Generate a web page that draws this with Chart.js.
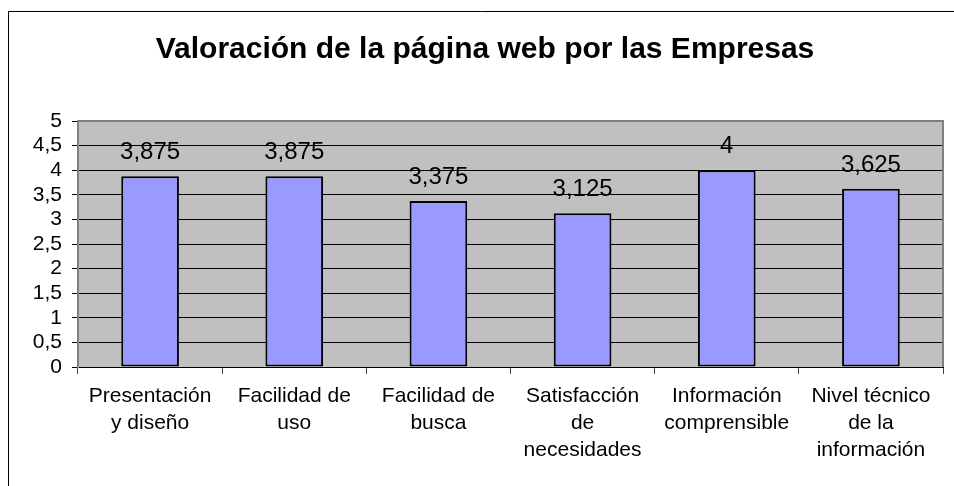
<!DOCTYPE html>
<html>
<head>
<meta charset="utf-8">
<script src="https://cdn.jsdelivr.net/npm/chart.js@4/dist/chart.umd.min.js"></script>
<style>
  html, body { margin: 0; padding: 0; background: #ffffff; }
  #wrap { width: 954px; height: 486px; }
</style>
</head>
<body>
<div id="wrap"><canvas id="ratingsChart" width="954" height="486"></canvas></div>
<script>
const TITLE = 'Valoración de la página web por las Empresas';
const CATEGORIES = [
  ['Presentación', 'y diseño'],
  ['Facilidad de', 'uso'],
  ['Facilidad de', 'busca'],
  ['Satisfacción', 'de', 'necesidades'],
  ['Información', 'comprensible'],
  ['Nivel técnico', 'de la', 'información']
];
const RATINGS = [3.875, 3.875, 3.375, 3.125, 4, 3.625];
const Y_MIN = 0;
const Y_MAX = 5;
const Y_STEP = 0.5;

const FONT = "'Liberation Sans', Arial, sans-serif";

function toComma(value) {
  return String(value).replace('.', ',');
}

// plot background, outer frame and title
const chartDecor = {
  id: 'chartDecor',
  beforeDraw(chart) {
    const { ctx, chartArea } = chart;
    ctx.save();
    ctx.fillStyle = '#ffffff';
    ctx.fillRect(0, 0, chart.width, chart.height);

    ctx.strokeStyle = '#000000';
    ctx.lineWidth = 1;
    ctx.beginPath();
    ctx.moveTo(8.5, chart.height);
    ctx.lineTo(8.5, 11.5);
    ctx.lineTo(chart.width, 11.5);
    ctx.stroke();

    ctx.fillStyle = '#c0c0c0';
    ctx.fillRect(chartArea.left, chartArea.top, chartArea.right - chartArea.left, chartArea.bottom - chartArea.top);

    ctx.fillStyle = '#000000';
    ctx.font = 'bold 30px ' + FONT;
    ctx.textAlign = 'center';
    ctx.textBaseline = 'alphabetic';
    ctx.fillText(TITLE, 485, 58);
    ctx.restore();
  },
  beforeDatasetsDraw(chart) {
    const { ctx, chartArea } = chart;
    ctx.save();
    ctx.strokeStyle = '#808080';
    ctx.lineWidth = 2;
    ctx.beginPath();
    ctx.moveTo(chartArea.left, chartArea.bottom);
    ctx.lineTo(chartArea.left, chartArea.top);
    ctx.lineTo(chartArea.right, chartArea.top);
    ctx.lineTo(chartArea.right, chartArea.bottom);
    ctx.stroke();
    ctx.restore();
  },
  afterDatasetsDraw(chart) {
    const { ctx } = chart;
    const meta = chart.getDatasetMeta(0);
    ctx.save();
    ctx.fillStyle = '#000000';
    ctx.font = '24px ' + FONT;
    ctx.textAlign = 'center';
    ctx.textBaseline = 'alphabetic';
    meta.data.forEach((bar, i) => {
      ctx.fillText(toComma(RATINGS[i]), bar.x, bar.y - 17);
    });
    ctx.restore();
  }
};

new Chart(document.getElementById('ratingsChart'), {
  type: 'bar',
  data: {
    labels: CATEGORIES,
    datasets: [{
      data: RATINGS,
      backgroundColor: '#9999ff',
      borderColor: '#000000',
      borderWidth: 2,
      borderSkipped: false,
      barPercentage: 0.4,
      categoryPercentage: 1
    }]
  },
  options: {
    responsive: false,
    animation: false,
    layout: { padding: { top: 121, right: 11, left: 0, bottom: 0 } },
    plugins: {
      legend: { display: false },
      title: { display: false },
      tooltip: { enabled: false }
    },
    scales: {
      x: {
        afterFit(scale) { scale.height = 119; },
        grid: {
          offset: true,
          drawOnChartArea: false,
          tickLength: 7,
          tickColor: '#404040'
        },
        border: { color: '#000000', width: 1 },
        ticks: {
          autoSkip: false,
          maxRotation: 0,
          minRotation: 0,
          padding: 9,
          color: '#000000',
          font: { family: FONT, size: 21, lineHeight: 27 / 21 }
        }
      },
      y: {
        min: Y_MIN,
        max: Y_MAX,
        afterFit(scale) { scale.width = 78; },
        grid: {
          color: '#000000',
          lineWidth: 1,
          tickLength: 6,
          tickColor: '#000000'
        },
        border: { color: '#808080', width: 2 },
        ticks: {
          stepSize: Y_STEP,
          autoSkip: false,
          padding: 10,
          color: '#000000',
          font: { family: FONT, size: 21 },
          callback: (value) => toComma(value)
        }
      }
    }
  },
  plugins: [chartDecor]
});
</script>
</body>
</html>
